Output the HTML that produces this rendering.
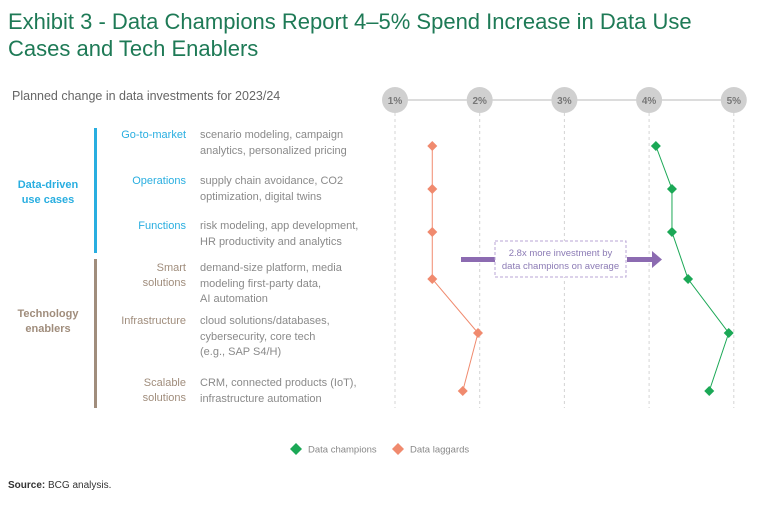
<!DOCTYPE html>
<html><head><meta charset="utf-8"><style>
body{margin:0;background:#fff;font-family:"Liberation Sans",sans-serif;}
#root{position:relative;width:768px;height:512px;overflow:hidden;}
.t{position:absolute;white-space:nowrap;}
.title{left:8px;top:8px;font-size:22px;line-height:27px;color:#1e7a56;}
.sub{left:12px;top:89px;font-size:12.5px;color:#666;}
.cat{font-size:11px;color:#29aee0;text-align:right;right:582px;line-height:15px;}
.catb{color:#a08d7c;}
.desc{left:200px;font-size:11px;color:#8a8a8a;line-height:15.5px;}
.grp{font-size:11px;font-weight:bold;text-align:center;line-height:15px;}
</style></head><body><div id="root">
<div class="t title">Exhibit 3 - Data Champions Report 4–5% Spend Increase in Data Use<br>Cases and Tech Enablers</div>
<div class="t sub">Planned change in data investments for 2023/24</div>

<div style="position:absolute;left:94px;top:128px;width:3px;height:125px;background:#29aee0"></div>
<div style="position:absolute;left:94px;top:259px;width:3px;height:149px;background:#a08d7c"></div>
<div class="t grp" style="left:8px;top:178px;width:80px;color:#29aee0">Data-driven<br>use cases</div>
<div class="t grp" style="left:8px;top:307px;width:80px;color:#a08d7c">Technology<br>enablers</div>

<div class="t cat" style="top:128px">Go-to-market</div>
<div class="t desc" style="top:128px">scenario modeling, campaign<br>analytics, personalized pricing</div>
<div class="t cat" style="top:174px">Operations</div>
<div class="t desc" style="top:174px">supply chain avoidance, CO2<br>optimization, digital twins</div>
<div class="t cat" style="top:219px">Functions</div>
<div class="t desc" style="top:219px">risk modeling, app development,<br>HR productivity and analytics</div>
<div class="t cat catb" style="top:261px">Smart<br>solutions</div>
<div class="t desc" style="top:261px">demand-size platform, media<br>modeling first-party data,<br>AI automation</div>
<div class="t cat catb" style="top:314px">Infrastructure</div>
<div class="t desc" style="top:314px">cloud solutions/databases,<br>cybersecurity, core tech<br>(e.g., SAP S4/H)</div>
<div class="t cat catb" style="top:376px">Scalable<br>solutions</div>
<div class="t desc" style="top:376px">CRM, connected products (IoT),<br>infrastructure automation</div>

<svg id="plot" width="768" height="512" style="position:absolute;left:0;top:0"></svg>

<div class="t" style="left:0;top:480px;font-size:10px;color:#333;left:8px"><b>Source:</b> BCG analysis.</div>
</div>
<script>
const ticks=[1,2,3,4,5];
const tickLabels=["1%","2%","3%","4%","5%"];
const champions=[4.08,4.27,4.27,4.46,4.94,4.71];
const laggards=[1.44,1.44,1.44,1.44,1.98,1.80];
const rows=["Go-to-market","Operations","Functions","Smart solutions","Infrastructure","Scalable solutions"];
const legendLabels=["Data champions","Data laggards"];
const NS="http://www.w3.org/2000/svg";
const svg=document.getElementById('plot');
const xs=v=>395+(v-1)*84.7;
const rowY=[146,189,232,279,333,391];
const ys=i=>rowY[i];
function mk(t,a){const e=document.createElementNS(NS,t);for(const k in a)e.setAttribute(k,a[k]);svg.appendChild(e);return e;}
let l=mk('line',{x1:xs(1),x2:xs(5),y1:100,y2:100,stroke:'#c8c8c8','stroke-width':1.3});


ticks.forEach((t,i)=>{
 let g=mk('line',{x1:xs(t),x2:xs(t),y1:113,y2:408,stroke:'#d4d4d4','stroke-dasharray':'3,3'});
 
 
 let c=mk('circle',{cx:xs(t),cy:100,r:13,fill:'#d0d0d0'});
 
 
 let tx=mk('text',{x:xs(t),y:104,'text-anchor':'middle','font-size':10,'font-weight':'bold',fill:'#777','font-family':'Liberation Sans, sans-serif'});
 tx.textContent=tickLabels[i];
 
 
});
function series(vals,color,name){
 let p=mk('polyline',{points:vals.map((v,i)=>xs(v)+','+ys(i)).join(' '),fill:'none',stroke:color,'stroke-width':1});
 
 
 vals.forEach((v,i)=>{
  let x=xs(v),y=ys(i);
  let d=mk('polygon',{points:`${x},${y-5} ${x+5},${y} ${x},${y+5} ${x-5},${y}`,fill:color});
  
  
 });
}
series(laggards,'#f08a6e','laggards');
series(champions,'#1ba856','champions');
// annotation arrow
let a1=mk('rect',{x:461,y:257,width:34,height:5,fill:'#8c6bb1'});


let a2=mk('rect',{x:627,y:257,width:26,height:5,fill:'#8c6bb1'});


let a3=mk('polygon',{points:'652,251 662,259.5 652,268',fill:'#8c6bb1'});


let bx=mk('rect',{x:495,y:241,width:131,height:36,fill:'#fff',stroke:'#b9a6d6','stroke-dasharray':'3,2'});


["2.8x more investment by","data champions on average"].forEach((s,i)=>{
 let t=mk('text',{x:560.5,y:256+i*13,'text-anchor':'middle','font-size':9.5,fill:'#8c7bb5','font-family':'Liberation Sans, sans-serif'});
 t.textContent=s;
 
 
});
// legend
[[296,'#1ba856'],[398,'#f08a6e']].forEach((e,i)=>{
 let x=e[0],y=449;
 let d=mk('polygon',{points:`${x},${y-6} ${x+6},${y} ${x},${y+6} ${x-6},${y}`,fill:e[1]});
 
 
 let t=mk('text',{x:x+12,y:y+3.5,'font-size':9.5,fill:'#888','font-family':'Liberation Sans, sans-serif'});
 t.textContent=legendLabels[i];
 
 
});
</script>
</body></html>
